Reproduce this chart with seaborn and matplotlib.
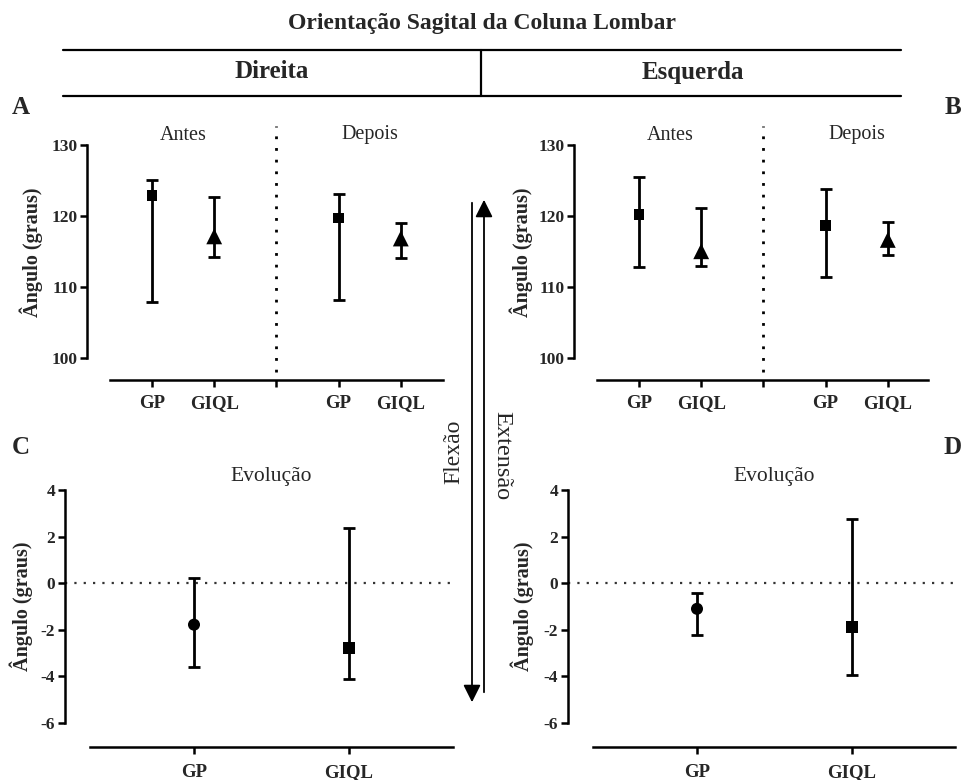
import matplotlib
matplotlib.use("Agg")
import matplotlib.pyplot as plt
import seaborn as sns
import numpy as np
import pandas as pd
from matplotlib.lines import Line2D

sns.set_theme(style="ticks")
plt.rcParams['font.family'] = ['Liberation Serif', 'DejaVu Serif']

# ---------------- data ----------------
groups = ["GP", "GIQL"]
periods = ["Antes", "Depois"]
markers_top = ["s", "^"]
markers_bot = ["o", "s"]

# Panel A (Direita): order Antes GP, Antes GIQL, Depois GP, Depois GIQL
a_mean = [122.9, 117.1, 119.7, 116.8]
a_low = [107.8, 114.2, 108.1, 114.0]
a_high = [125.1, 122.6, 123.1, 119.05]
# Panel B (Esquerda)
b_mean = [120.2, 115.0, 118.6, 116.6]
b_low = [112.8, 112.9, 111.3, 114.5]
b_high = [125.5, 121.1, 123.8, 119.1]
# Panel C (Evolução Direita)
c_mean = [-1.78, -2.78]
c_low = [-3.6, -4.1]
c_high = [0.24, 2.35]
# Panel D (Evolução Esquerda)
d_mean = [-1.1, -1.88]
d_low = [-2.22, -3.93]
d_high = [-0.43, 2.77]

top_ticks = [100, 110, 120, 130]
bot_ticks = [-6, -4, -2, 0, 2, 4]

SIZES_TOP = {"s": 60, "^": 130}
SIZES_BOT = {"o": 75, "s": 75}

W, H = 968, 780
fig = plt.figure(figsize=(9.68, 7.80), dpi=100)

def px_axes(l, r, t, b):
    return fig.add_axes([l / W, 1 - b / H, (r - l) / W, (b - t) / H])

def style_axes(ax):
    for s in ["top", "right"]:
        ax.spines[s].set_visible(False)
    for s in ["left", "bottom"]:
        ax.spines[s].set_linewidth(1.8)
        ax.spines[s].set_color("black")
    ax.tick_params(axis="both", width=1.8, length=5, color="black", pad=2)
    ax.set_facecolor("white")
    for lab in ax.get_yticklabels() + ax.get_xticklabels():
        lab.set_fontweight("bold")

def errs(ax, xs, mean, low, high, markers, sizes):
    mean = np.asarray(mean); low = np.asarray(low); high = np.asarray(high)
    ax.errorbar(xs, mean, yerr=[mean - low, high - mean], fmt="none",
                ecolor="black", elinewidth=2.0, capsize=4.5, capthick=2.0,
                clip_on=False, zorder=3)
    df = pd.DataFrame({"x": xs, "y": mean, "m": markers})
    sns.scatterplot(data=df, x="x", y="y", style="m", size="m",
                    markers={m: m for m in set(markers)},
                    sizes={m: sizes[m] for m in set(markers)},
                    color="black", edgecolor="black", linewidth=0,
                    legend=False, ax=ax, zorder=4, clip_on=False)

def top_panel(l, r, x0, mean, low, high, lab_right):
    ax = px_axes(l, r, 145, 380)
    sp = 62.2
    xl = (l - x0) / sp
    xr = (r - x0) / sp
    ppu = (357.5 - 145) / 30.0
    ybot = 100 - (380 - 357.5) / ppu
    ax.set_xlim(xl, xr)
    ax.set_ylim(ybot, 130)
    xs = [0, 1, 3, 4]
    mk = [markers_top[0], markers_top[1], markers_top[0], markers_top[1]]
    errs(ax, xs, mean, low, high, mk, SIZES_TOP)
    ax.set_xticks([0, 1, 2, 3, 4])
    ax.set_xticklabels(["GP", "GIQL", "", "GP", "GIQL"], fontsize=13.5)
    ax.set_yticks(top_ticks)
    ax.set_yticklabels([str(t) for t in top_ticks], fontsize=12.5)
    ax.spines["left"].set_bounds(100, 130)
    ax.spines["bottom"].set_bounds(xl + 0.37, xr)
    ax.set_xlabel("")
    ax.set_ylabel("Ângulo (graus)", fontsize=14.5, fontweight="bold")
    ax.yaxis.set_label_coords((lab_right - l) / (r - l), (380 - 252) / 235)
    # divider dotted line
    ytop = 130 + (145 - 126) / ppu
    ylow = ybot + (380 - 372) / ppu
    ax.plot([2, 2], [ylow, ytop], ls=(0, (1, 3.2)), lw=2.0, color="black",
            clip_on=False)
    ax.text(0.5, 130 + (145 - 135) / ppu, periods[0], ha="center", va="center",
            fontsize=14.5)
    ax.text(3.5, 130 + (145 - 135) / ppu, periods[1], ha="center", va="center",
            fontsize=14.5)
    style_axes(ax)
    ax.tick_params(axis="x", length=5, pad=6)
    return ax

def bot_panel(l, r, x0, mean, low, high, lab_right):
    ax = px_axes(l, r, 490, 747)
    sp = 155.0
    xl = (l - x0) / sp
    xr = (r - x0) / sp
    ppu = (723 - 490) / 10.0
    ybot = -6 - (747 - 723) / ppu
    ax.set_xlim(xl, xr)
    ax.set_ylim(ybot, 4)
    ax.plot([xl, xr], [0, 0], ls=(0, (1, 3.2)), lw=1.6, color="#333333", zorder=2)
    errs(ax, [0, 1], mean, low, high, markers_bot, SIZES_BOT)
    ax.set_xticks([0, 1])
    ax.set_xticklabels(groups, fontsize=13.5)
    ax.set_yticks(bot_ticks)
    ax.set_yticklabels([str(t) for t in bot_ticks], fontsize=12.5)
    ax.spines["left"].set_bounds(-6, 4)
    ax.spines["bottom"].set_bounds(xl + (25 / sp), xr)
    ax.set_xlabel("")
    ax.set_ylabel("Ângulo (graus)", fontsize=14.5, fontweight="bold")
    ax.yaxis.set_label_coords((lab_right - l) / (r - l), (747 - 606) / 257)
    ax.text(0.5, 4 + (490 - 477) / ppu, "Evolução", ha="center", va="center",
            fontsize=15.5)
    style_axes(ax)
    ax.tick_params(axis="x", length=5, pad=7)
    return ax

axA = top_panel(87, 443, 152, a_mean, a_low, a_high, 43)
axB = top_panel(574, 928, 639, b_mean, b_low, b_high, 533)
axC = bot_panel(65, 453, 194, c_mean, c_low, c_high, 33)
axD = bot_panel(568, 955, 697, d_mean, d_low, d_high, 534)

def fx(x): return x / W
def fy(y): return 1 - y / H

# header
fig.text(fx(482), fy(23), "Orientação Sagital da Coluna Lombar", ha="center",
         va="center", fontsize=17, fontweight="bold")
for yy in (50, 96):
    fig.add_artist(Line2D([fx(63), fx(901)], [fy(yy), fy(yy)], color="black", lw=1.6))
fig.add_artist(Line2D([fx(481), fx(481)], [fy(50), fy(96)], color="black", lw=1.6))
fig.text(fx(272), fy(72), "Direita", ha="center", va="center", fontsize=18,
         fontweight="bold")
fig.text(fx(693), fy(72), "Esquerda", ha="center", va="center", fontsize=18,
         fontweight="bold")

for lab, (x, y) in {"A": (21, 108), "B": (953, 108), "C": (21, 448),
                    "D": (953, 448)}.items():
    fig.text(fx(x), fy(y), lab, ha="center", va="center", fontsize=18,
             fontweight="bold")

# middle arrows
fig.add_artist(matplotlib.patches.FancyArrowPatch(
    (fx(472), fy(200)), (fx(472), fy(705)), transform=fig.transFigure,
    arrowstyle="-|>,head_length=7,head_width=3.5", color="black", lw=1.3,
    mutation_scale=1.5))
fig.add_artist(matplotlib.patches.FancyArrowPatch(
    (fx(484), fy(695)), (fx(484), fy(197)), transform=fig.transFigure,
    arrowstyle="-|>,head_length=7,head_width=3.5", color="black", lw=1.3,
    mutation_scale=1.5))
fig.text(fx(454), fy(452), "Flexão", rotation=90, ha="center", va="center",
         fontsize=17)
fig.text(fx(502), fy(456), "Extensão", rotation=270, ha="center", va="center",
         fontsize=17.5)

fig.savefig("out.png", dpi=100, facecolor="white")
